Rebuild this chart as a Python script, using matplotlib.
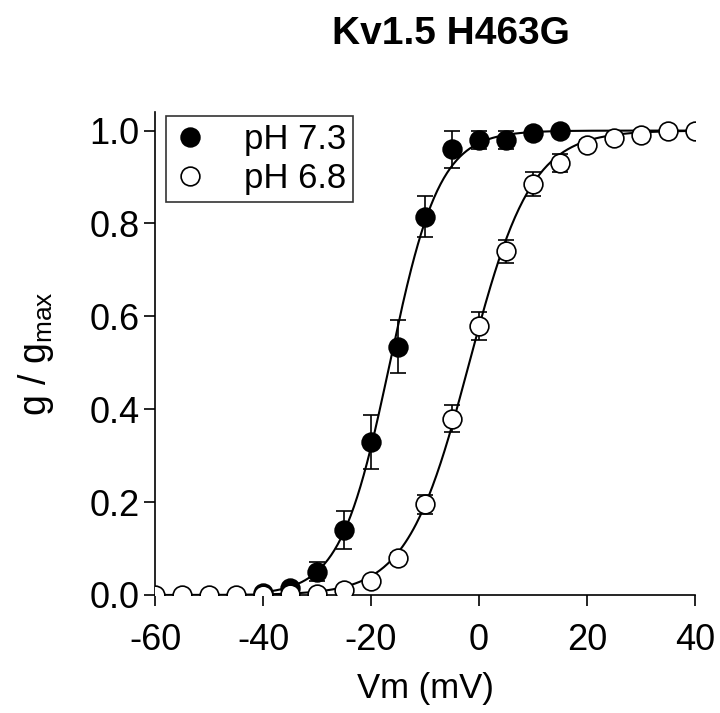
import numpy as np
import matplotlib
matplotlib.use("Agg")
from matplotlib import pyplot as plt

plt.rcParams['font.family'] = ['Liberation Sans', 'DejaVu Sans']
plt.rcParams['axes.unicode_minus'] = False
plt.rcParams['mathtext.fontset'] = 'custom'
plt.rcParams['mathtext.rm'] = 'Liberation Sans'

# pH 7.3 (filled circles)
v_73 = [-40, -35, -30, -25, -20, -15, -10, -5, 0, 5, 10, 15]
g_73 = [0.005, 0.015, 0.05, 0.14, 0.33, 0.535, 0.815, 0.96, 0.98, 0.98, 0.995, 1.0]
err_73 = [0.0, 0.005, 0.02, 0.04, 0.058, 0.057, 0.045, 0.04, 0.02, 0.02, 0.0, 0.0]

# pH 6.8 (open circles)
v_68 = [-60, -55, -50, -45, -40, -35, -30, -25, -20, -15, -10, -5, 0, 5, 10, 15, 20, 25, 30, 35, 40]
g_68 = [0.0, 0.0, 0.0, 0.0, 0.0, 0.002, 0.003, 0.01, 0.03, 0.08, 0.195, 0.38, 0.58, 0.74,
        0.885, 0.93, 0.97, 0.985, 0.99, 1.0, 1.0]
err_68 = [0, 0, 0, 0, 0, 0, 0, 0, 0.005, 0.01, 0.02, 0.03, 0.03, 0.025, 0.025, 0.02, 0.01,
          0.005, 0, 0, 0]

# Boltzmann fit parameters (V1/2, slope k) and fit ranges
fit_73 = (-16.5, 4.6, -40, 40)
fit_68 = (-1.8, 5.75, -60, 40)


def boltz(v, vh, k):
    return 1.0 / (1.0 + np.exp(-(v - vh) / k))


fig = plt.figure(figsize=(7.2, 7.13), dpi=100)
ax = fig.add_axes([0.2153, 0.1655, 0.75, 0.6774])

for vh, k, lo, hi in (fit_73, fit_68):
    vv = np.linspace(lo, hi, 400)
    ax.plot(vv, boltz(vv, vh, k), color='black', lw=1.5, zorder=2)

ax.errorbar(v_68, g_68, yerr=err_68, fmt='none', ecolor='black', elinewidth=1.2,
            capsize=5.8, capthick=1.2, zorder=3)
ax.errorbar(v_73, g_73, yerr=err_73, fmt='none', ecolor='black', elinewidth=1.2,
            capsize=5.8, capthick=1.2, zorder=3)
ax.plot(v_73, g_73, 'o', ms=13.5, mfc='black', mec='black', mew=1.2, label='pH 7.3', zorder=4)
ax.plot(v_68, g_68, 'o', ms=13.5, mfc='white', mec='black', mew=1.2, label='pH 6.8', zorder=4)

ax.set_xlim(-60, 40)
ax.set_ylim(0, 1.04)
ax.set_xticks([-60, -40, -20, 0, 20, 40])
ax.set_yticks([0.0, 0.2, 0.4, 0.6, 0.8, 1.0])
ax.set_yticklabels(['0.0', '0.2', '0.4', '0.6', '0.8', '1.0'])
ax.spines['top'].set_visible(False)
ax.spines['right'].set_visible(False)
for s in ('left', 'bottom'):
    ax.spines[s].set_linewidth(1.2)
ax.spines['bottom'].set_bounds(-60, 40)
ax.tick_params(direction='out', length=8, width=1.2, labelsize=26)
ax.tick_params(axis='x', pad=12)
ax.tick_params(axis='y', pad=3)

ax.set_xlabel('Vm (mV)', fontsize=25, labelpad=10)
ax.set_ylabel(r'g / g$_{\mathregular{max}}$', fontsize=27, labelpad=24)

leg = ax.legend(loc='upper left', bbox_to_anchor=(11 / 540, 1 - 4 / 483), borderaxespad=0,
                fontsize=25, frameon=True, fancybox=False, edgecolor='black',
                handletextpad=1.05, borderpad=0.2, labelspacing=0.18, handlelength=1.0)
leg.get_frame().set_linewidth(1.2)
leg.set_zorder(5)

fig.text(0.626, 0.952, 'Kv1.5 H463G', fontsize=28, fontweight='bold',
         ha='center', va='center')

fig.savefig('out.png', dpi=100)
